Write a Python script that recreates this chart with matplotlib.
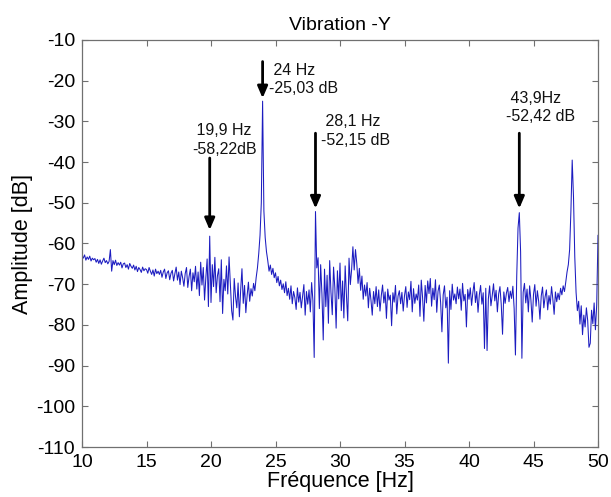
import numpy as np
import matplotlib
matplotlib.use("Agg")
import matplotlib.pyplot as plt

plt.rcParams["font.family"] = ["Liberation Sans", "DejaVu Sans"]
plt.rcParams["axes.unicode_minus"] = False

# Spectrum, one value per 0.1 Hz from 10 to 50 Hz
freq_start, freq_step = 10.0, 0.1
amp_db = [
    # 10 Hz
    -63.0, -63.6, -62.8, -64.1, -63.3, -63.9, -63.1, -64.3, -63.6, -64.0,
    # 11 Hz
    -63.7, -64.6, -63.9, -64.9, -64.0, -65.1, -64.3, -63.6, -64.7, -64.2,
    # 12 Hz
    -65.0, -64.4, -61.5, -66.8, -64.2, -65.2, -64.1, -65.4, -64.7, -65.3,
    # 13 Hz
    -64.6, -66.0, -65.0, -64.8, -65.9, -65.2, -66.3, -64.9, -65.6, -66.1,
    # 14 Hz
    -65.3, -66.5, -65.6, -66.9, -65.9, -66.4, -67.1, -65.8, -66.7, -66.2,
    # 15 Hz
    -66.4, -67.3, -65.9, -66.8, -67.6, -66.5, -68.0, -66.3, -67.4, -66.8,
    # 16 Hz
    -67.6, -66.6, -68.3, -67.0, -66.3, -68.6, -67.2, -66.7, -68.9, -67.3,
    # 17 Hz
    -66.6, -69.2, -67.4, -65.8, -69.0, -67.0, -70.1, -66.8, -68.4, -70.5,
    # 18 Hz
    -67.4, -65.9, -70.8, -68.1, -66.3, -71.6, -67.2, -69.4, -65.6, -71.2,
    # 19 Hz
    -67.0, -72.8, -64.6, -70.2, -65.9, -73.9, -68.4, -63.8, -75.5, -58.2,
    # 20 Hz
    -74.5, -65.2, -70.6, -63.4, -72.1, -67.9, -66.2, -74.3, -64.0, -77.2,
    # 21 Hz
    -68.8, -71.6, -65.5, -72.4, -63.3, -70.0, -76.5, -78.8, -68.6, -73.0,
    # 22 Hz
    -75.8, -69.7, -78.0, -71.4, -66.2, -74.7, -70.3, -77.0, -72.8, -69.5,
    # 23 Hz
    -74.2, -71.1, -72.9, -69.8, -71.6, -68.4, -66.0, -62.5, -58.0, -50.0,
    # 24 Hz
    -25.03, -52.0, -58.5, -62.0, -64.2, -66.8, -65.3, -67.6, -66.1, -68.4,
    # 25 Hz
    -67.2, -69.6, -68.1, -70.4, -69.0, -71.3, -69.9, -72.1, -69.4, -72.8,
    # 26 Hz
    -71.0, -73.7, -70.4, -74.8, -71.8, -73.3, -76.2, -70.9, -74.4, -72.0,
    # 27 Hz
    -75.8, -72.9, -70.1, -77.6, -71.8, -74.9, -71.4, -76.8, -69.6, -74.0,
    # 28 Hz
    -88.0, -52.15, -66.0, -63.5, -76.0, -65.2, -72.4, -83.7, -66.3, -75.5,
    # 29 Hz
    -67.8, -79.6, -64.2, -72.0, -77.5, -65.8, -70.9, -80.8, -66.7, -73.6,
    # 30 Hz
    -64.8, -76.5, -69.2, -78.3, -65.5, -72.8, -79.0, -63.6, -70.1, -66.4,
    # 31 Hz
    -60.8, -66.5, -61.5, -64.9, -69.8, -66.1, -71.5, -68.0, -73.7, -70.2,
    # 32 Hz
    -72.9, -69.6, -75.8, -71.0, -73.9, -77.6, -71.8, -74.8, -70.6, -75.5,
    # 33 Hz
    -71.4, -76.6, -72.8, -70.2, -74.6, -71.9, -78.4, -71.2, -73.9, -72.7,
    # 34 Hz
    -80.2, -72.1, -74.4, -70.3, -77.3, -72.9, -71.6, -74.8, -72.0, -76.6,
    # 35 Hz
    -72.8, -70.6, -75.7, -71.9, -73.8, -69.3, -76.8, -71.1, -74.7, -72.4,
    # 36 Hz
    -73.9, -70.2, -77.9, -69.0, -73.2, -79.1, -70.3, -74.6, -69.2, -72.3,
    # 37 Hz
    -68.6, -75.4, -71.0, -73.8, -68.9, -76.9, -71.7, -70.2, -74.5, -81.7,
    # 38 Hz
    -72.6, -70.4, -75.8, -73.2, -89.4, -71.6, -76.2, -70.0, -73.9, -72.4,
    # 39 Hz
    -74.8, -70.7, -73.6, -71.2, -76.4, -69.8, -74.1, -72.5, -80.5, -71.3,
    # 40 Hz
    -73.7, -70.9, -75.2, -72.0, -69.6, -74.5, -71.8, -76.9, -72.6, -70.3,
    # 41 Hz
    -74.9, -72.1, -85.8, -71.0, -86.3, -73.6, -70.4, -75.3, -72.8, -69.9,
    # 42 Hz
    -74.1, -71.5, -76.8, -72.4, -70.6, -75.0, -82.3, -71.9, -74.7, -72.2,
    # 43 Hz
    -70.8, -74.3, -71.7, -73.5, -70.5, -76.0, -87.4, -68.0, -56.2, -52.42,
    # 44 Hz
    -62.0, -88.2, -72.0, -69.8, -74.6, -71.2, -76.8, -70.4, -73.9, -79.3,
    # 45 Hz
    -72.5, -70.1, -75.4, -71.6, -74.2, -78.6, -72.9, -70.7, -75.8, -73.1,
    # 46 Hz
    -71.4, -76.3, -72.8, -74.9, -70.6, -73.7, -77.4, -71.9, -74.3, -72.2,
    # 47 Hz
    -73.8, -71.0, -72.6, -70.4, -71.8, -69.5, -67.0, -65.2, -61.5, -52.0,
    # 48 Hz
    -39.5, -48.5, -63.3, -72.0, -76.5, -74.2, -79.8, -75.3, -82.4, -77.6,
    # 49 Hz
    -80.5, -75.8, -78.9, -85.5, -84.5, -76.4, -79.7, -74.6, -81.2, -75.0,
    # 50 Hz
    -58.0,
]
freq = freq_start + freq_step * np.arange(len(amp_db))

# Marked peaks: frequency, label lines
peak_freq = [19.9, 24.0, 28.1, 43.9]
peak_label1 = [" 19,9 Hz", " 24 Hz", " 28,1 Hz", " 43,9Hz"]
peak_label2 = ["-58,22dB", "-25,03 dB", "-52,15 dB", "-52,42 dB"]
# arrow top / tip (dB), text left edge (Hz), text line centres (dB)
arrow_top = [-39.0, -15.3, -32.9, -32.9]
arrow_tip = [-56.7, -24.3, -51.4, -51.4]
text_x = [18.55, 24.5, 28.55, 42.85]
text_y1 = [-32.3, -17.4, -30.1, -24.3]
text_y2 = [-36.8, -21.9, -34.7, -28.9]

x_ticks = [10, 15, 20, 25, 30, 35, 40, 45, 50]
y_ticks = [-10, -20, -30, -40, -50, -60, -70, -80, -90, -100, -110]

fig = plt.figure(figsize=(6.11, 4.97), dpi=100)
ax = fig.add_axes([82 / 611, 50 / 497, 516 / 611, 407 / 497])

ax.plot(freq, amp_db, color="#1c1cc0", linewidth=0.75)

for i in range(len(peak_freq)):
    ax.annotate("", xy=(peak_freq[i], arrow_tip[i]),
                xytext=(peak_freq[i], arrow_top[i]),
                arrowprops=dict(arrowstyle="-|>,head_length=0.7,head_width=0.3",
                                color="black", lw=2, shrinkA=0, shrinkB=0))
    ax.text(text_x[i], text_y1[i], peak_label1[i], fontsize=11.5,
            ha="left", va="center", color="#111111")
    ax.text(text_x[i], text_y2[i], peak_label2[i], fontsize=11.5,
            ha="left", va="center", color="#111111")

ax.set_xlim(10, 50)
ax.set_ylim(-110, -10)
ax.set_xticks(x_ticks)
ax.set_yticks(y_ticks)
ax.tick_params(direction="in", length=4, width=0.8, color="#707070",
               labelsize=14, top=True, right=True, pad=5)
for s in ax.spines.values():
    s.set_color("#707070")
    s.set_linewidth(0.9)

ax.set_xlabel("Fréquence [Hz]", fontsize=15.5, labelpad=0)
ax.set_ylabel("Amplitude [dB]", fontsize=15.5, labelpad=2)
ax.set_title("Vibration -Y", fontsize=14, pad=7)

fig.savefig("out.png", dpi=100)
